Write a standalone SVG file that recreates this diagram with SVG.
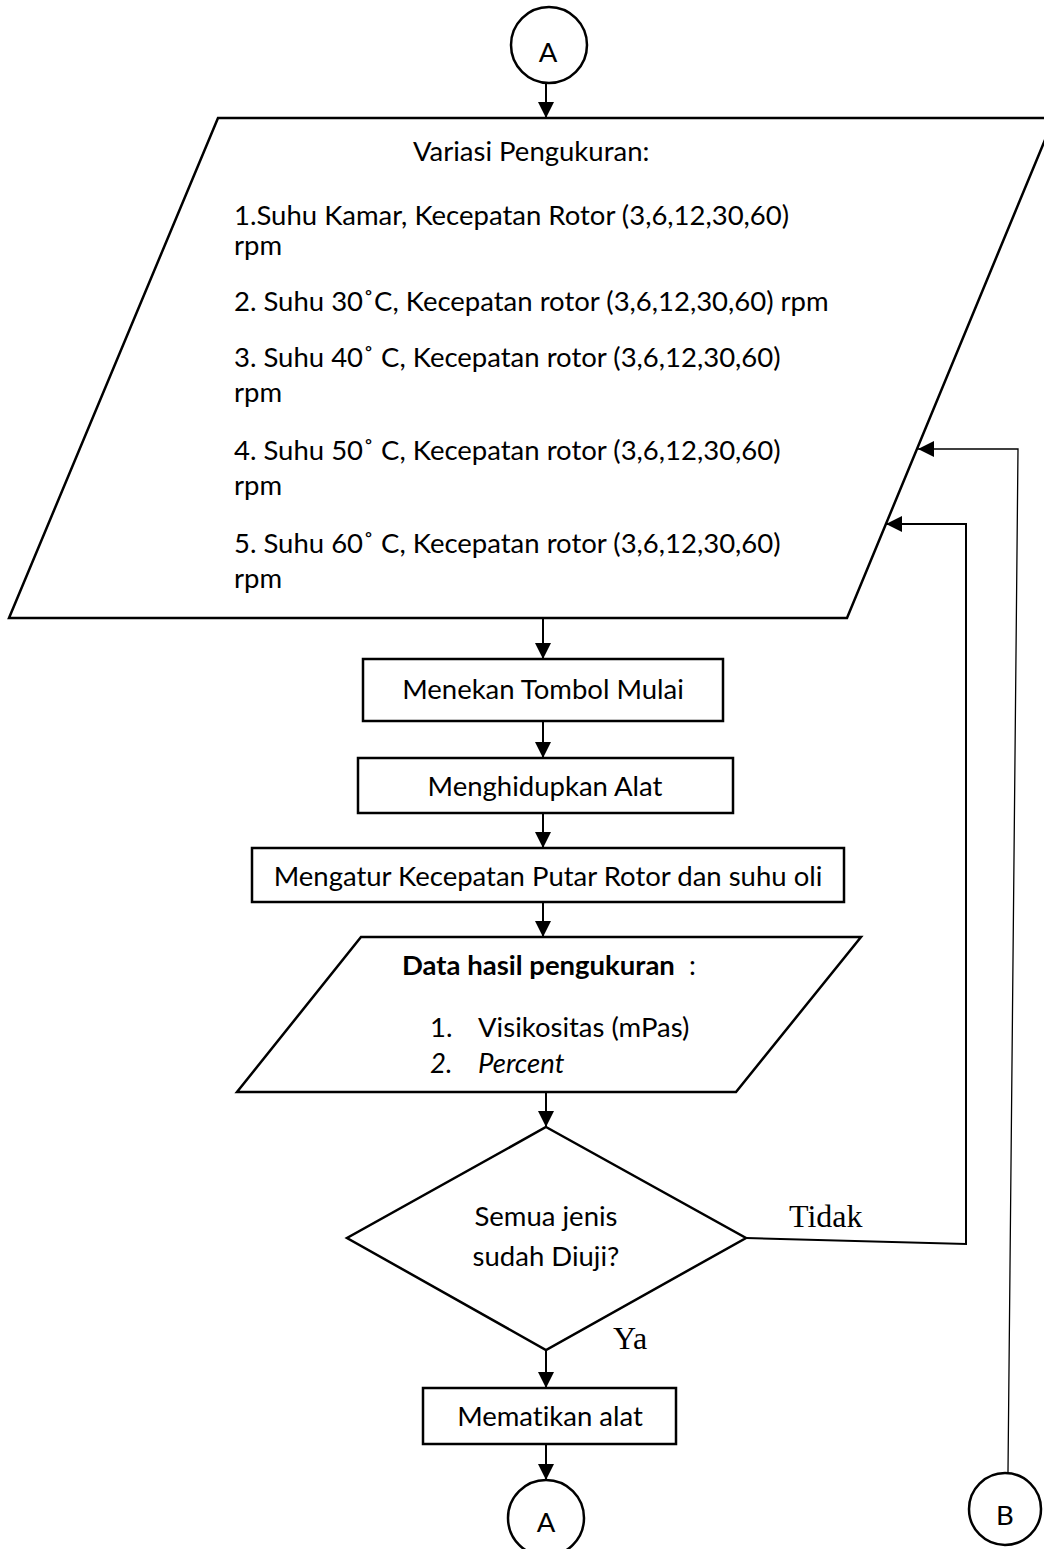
<svg xmlns="http://www.w3.org/2000/svg" width="1044" height="1549" viewBox="0 0 1044 1549">
  <defs>
    <marker id="arrow" markerUnits="userSpaceOnUse" viewBox="0 0 16 16" markerWidth="16" markerHeight="16" refX="16" refY="8" orient="auto">
      <path d="M0,0 L16,8 L0,16 z" fill="#000"/>
    </marker>
    <style>
      .shape{fill:#fff;stroke:#000;stroke-width:2.5;stroke-linejoin:miter}
      .conn{fill:none;stroke:#000;stroke-width:2}
      .thin{stroke-width:1.3}
      .t{font-family:Lato,"Open Sans",sans-serif;font-size:27.5px;fill:#000;font-variant-ligatures:none;font-feature-settings:"liga" 0,"dlig" 0}
      .c{text-anchor:middle}
      .b{font-weight:bold}
      .i{font-style:italic}
      .serif{font-family:"Liberation Serif","Times New Roman",serif;font-size:32px;fill:#000}
    </style>
  </defs>
  <rect width="1044" height="1549" fill="#fff"/>

  <!-- connectors -->
  <g id="connectors">
    <line class="conn" x1="546" y1="82" x2="546" y2="118" marker-end="url(#arrow)"/>
    <line class="conn" x1="543" y1="618" x2="543" y2="659" marker-end="url(#arrow)"/>
    <line class="conn" x1="543" y1="721" x2="543" y2="758" marker-end="url(#arrow)"/>
    <line class="conn" x1="543" y1="813" x2="543" y2="848" marker-end="url(#arrow)"/>
    <line class="conn" x1="543" y1="902" x2="543" y2="937" marker-end="url(#arrow)"/>
    <line class="conn" x1="546" y1="1092" x2="546" y2="1127" marker-end="url(#arrow)"/>
    <line class="conn" x1="546" y1="1350" x2="546" y2="1388" marker-end="url(#arrow)"/>
    <line class="conn" x1="546" y1="1444" x2="546" y2="1480" marker-end="url(#arrow)"/>
    <!-- "Tidak" loop back to the measurement input -->
    <polyline class="conn" points="746,1238 966,1244 966,524 886,524" marker-end="url(#arrow)"/>
    <!-- return from connector B -->
    <polyline class="conn thin" points="1008,1472 1018,449 918,449" marker-end="url(#arrow)"/>
    <text class="serif" x="789" y="1227">Tidak</text>
    <text class="serif" x="613" y="1349">Ya</text>
  </g>

  <g id="start-A">
    <circle class="shape" cx="549" cy="45" r="38"/>
    <text class="t c" x="548" y="62">A</text>
  </g>

  <g id="variasi-pengukuran">
    <polygon class="shape" points="218,118 1054,118 847,618 9,618"/>
    <text class="t" x="413" y="161">Variasi Pengukuran:</text>
    <text class="t" x="234" y="225">1.Suhu Kamar, Kecepatan Rotor (3,6,12,30,60)</text>
    <text class="t" x="234" y="255">rpm</text>
    <text class="t" x="234" y="311">2. Suhu 30˚C, Kecepatan rotor (3,6,12,30,60) rpm</text>
    <text class="t" x="234" y="367">3. Suhu 40˚ C, Kecepatan rotor (3,6,12,30,60)</text>
    <text class="t" x="234" y="402">rpm</text>
    <text class="t" x="234" y="460">4. Suhu 50˚ C, Kecepatan rotor (3,6,12,30,60)</text>
    <text class="t" x="234" y="495">rpm</text>
    <text class="t" x="234" y="553">5. Suhu 60˚ C, Kecepatan rotor (3,6,12,30,60)</text>
    <text class="t" x="234" y="588">rpm</text>
  </g>

  <g id="tombol-mulai">
    <rect class="shape" x="363" y="659" width="360" height="62"/>
    <text class="t c" x="543" y="699">Menekan Tombol Mulai</text>
  </g>

  <g id="hidupkan-alat">
    <rect class="shape" x="358" y="758" width="375" height="55"/>
    <text class="t c" x="545" y="796">Menghidupkan Alat</text>
  </g>

  <g id="atur-kecepatan">
    <rect class="shape" x="252" y="848" width="592" height="54"/>
    <text class="t c" x="548" y="886">Mengatur Kecepatan Putar Rotor dan suhu oli</text>
  </g>

  <g id="data-hasil">
    <polygon class="shape" points="361,937 861,937 736,1092 237,1092"/>
    <text class="t b" x="402" y="975">Data hasil pengukuran</text>
    <text class="t" x="689" y="975">:</text>
    <text class="t" x="430" y="1037">1.</text>
    <text class="t" x="478" y="1037">Visikositas (mPas)</text>
    <text class="t i" x="430" y="1073">2.</text>
    <text class="t i" x="478" y="1073">Percent</text>
  </g>

  <g id="cek-semua">
    <polygon class="shape" points="546,1127 746,1238 546,1350 347,1238"/>
    <text class="t c" x="546" y="1226">Semua jenis</text>
    <text class="t c" x="546" y="1266">sudah Diuji?</text>
  </g>

  <g id="matikan-alat">
    <rect class="shape" x="423" y="1388" width="253" height="56"/>
    <text class="t c" x="550" y="1426">Mematikan alat</text>
  </g>

  <g id="end-A">
    <circle class="shape" cx="546" cy="1518" r="38"/>
    <text class="t c" x="546" y="1532">A</text>
  </g>

  <g id="connector-B">
    <circle class="shape" cx="1005" cy="1509" r="36"/>
    <text class="t c" x="1005" y="1525">B</text>
  </g>
</svg>
